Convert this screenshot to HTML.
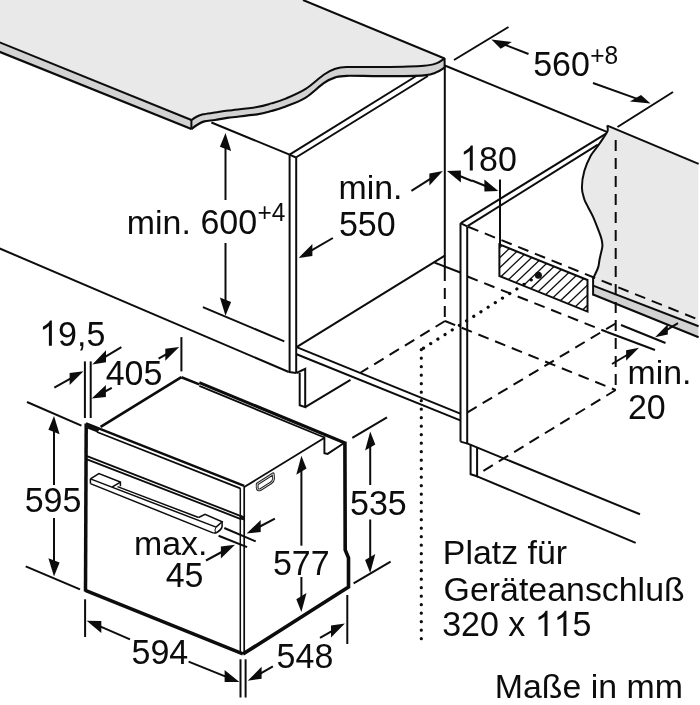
<!DOCTYPE html>
<html><head><meta charset="utf-8"><title>Einbau</title>
<style>html,body{margin:0;padding:0;background:#fff}svg{display:block}text{font-family:"Liberation Sans",sans-serif}</style>
</head><body>
<svg width="700" height="705" viewBox="0 0 700 705" style="will-change:transform">
<g style="filter:opacity(1)">
<rect width="700" height="705" fill="#fff"/>
<path d="M0,0 L0,42.5 L191.4,120 C192.3,119.4 195.1,117.5 197.0,116.5 C198.9,115.5 200.0,115.0 203.0,114.3 C206.0,113.6 210.7,113.2 215.0,112.6 C219.3,112.0 221.6,111.4 228.6,110.5 C235.6,109.6 249.9,108.2 257.0,107.0 C264.1,105.8 266.6,104.8 271.4,103.4 C276.2,102.0 280.0,101.0 285.7,98.6 C291.4,96.2 299.4,92.9 305.7,88.9 C312.0,84.9 318.8,78.1 323.7,74.7 C328.6,71.3 331.4,70.1 335.3,68.8 C339.2,67.5 339.0,67.3 346.9,67.0 C354.8,66.7 370.0,67.2 382.9,67.0 C395.8,66.8 415.0,66.4 424.0,65.7 C433.0,65.0 433.5,64.3 436.9,63.1 C440.3,61.9 443.3,59.3 444.6,58.5 L303,0 Z" fill="#e9e9e9" stroke="none"/>
<path d="M0,42.5 L191.4,120 L191.4,129 L0,52 Z" fill="#d2d2d2" stroke="none"/>
<path d="M191.4,120 C192.3,119.4 195.1,117.5 197.0,116.5 C198.9,115.5 200.0,115.0 203.0,114.3 C206.0,113.6 210.7,113.2 215.0,112.6 C219.3,112.0 221.6,111.4 228.6,110.5 C235.6,109.6 249.9,108.2 257.0,107.0 C264.1,105.8 266.6,104.8 271.4,103.4 C276.2,102.0 280.0,101.0 285.7,98.6 C291.4,96.2 299.4,92.9 305.7,88.9 C312.0,84.9 318.8,78.1 323.7,74.7 C328.6,71.3 331.4,70.1 335.3,68.8 C339.2,67.5 339.0,67.3 346.9,67.0 C354.8,66.7 370.0,67.2 382.9,67.0 C395.8,66.8 415.0,66.4 424.0,65.7 C433.0,65.0 433.5,64.3 436.9,63.1 C440.3,61.9 443.3,59.3 444.6,58.5 L444.6,67.5 C443.3,68.2 440.3,70.7 436.9,72.0 C433.5,73.3 433.0,74.6 424.0,75.3 C415.0,76.0 395.8,76.1 382.9,76.2 C370.0,76.3 354.8,75.6 346.9,75.8 C339.0,76.0 339.2,76.2 335.3,77.4 C331.4,78.6 328.6,79.8 323.7,83.2 C318.8,86.6 312.0,93.7 305.7,97.6 C299.4,101.5 291.4,104.3 285.7,106.5 C280.0,108.7 276.2,109.7 271.4,111.0 C266.6,112.3 264.2,113.2 257.1,114.3 C250.0,115.4 235.6,116.8 228.6,117.7 C221.6,118.7 219.1,119.4 215.0,120.0 C210.9,120.6 207.3,120.6 204.3,121.4 C201.3,122.2 199.2,123.7 197.0,125.0 C194.8,126.3 192.3,128.3 191.4,129.0 Z" fill="#d2d2d2" stroke="none"/>
<line x1="303.0" y1="0.0" x2="444.6" y2="58.5" stroke="#0c0c0c" stroke-width="2.0" stroke-linecap="butt"/>
<line x1="-1.0" y1="42.1" x2="191.4" y2="120.0" stroke="#0c0c0c" stroke-width="2" stroke-linecap="butt"/>
<line x1="-1.0" y1="51.6" x2="191.4" y2="129.0" stroke="#0c0c0c" stroke-width="2.4" stroke-linecap="butt"/>
<line x1="191.4" y1="119.5" x2="191.4" y2="129.5" stroke="#0c0c0c" stroke-width="2.0" stroke-linecap="butt"/>
<path d="M191.4,120.0 C192.3,119.4 195.1,117.5 197.0,116.5 C198.9,115.5 200.0,115.0 203.0,114.3 C206.0,113.6 210.7,113.2 215.0,112.6 C219.3,112.0 221.6,111.4 228.6,110.5 C235.6,109.6 249.9,108.2 257.0,107.0 C264.1,105.8 266.6,104.8 271.4,103.4 C276.2,102.0 280.0,101.0 285.7,98.6 C291.4,96.2 299.4,92.9 305.7,88.9 C312.0,84.9 318.8,78.1 323.7,74.7 C328.6,71.3 331.4,70.1 335.3,68.8 C339.2,67.5 339.0,67.3 346.9,67.0 C354.8,66.7 370.0,67.2 382.9,67.0 C395.8,66.8 415.0,66.4 424.0,65.7 C433.0,65.0 433.5,64.3 436.9,63.1 C440.3,61.9 443.3,59.3 444.6,58.5" fill="none" stroke="#0c0c0c" stroke-width="2" stroke-linejoin="round"/>
<path d="M191.4,129.0 C192.3,128.3 194.8,126.3 197.0,125.0 C199.2,123.7 201.3,122.2 204.3,121.4 C207.3,120.6 210.9,120.6 215.0,120.0 C219.1,119.4 221.6,118.7 228.6,117.7 C235.6,116.8 250.0,115.4 257.1,114.3 C264.2,113.2 266.6,112.3 271.4,111.0 C276.2,109.7 280.0,108.7 285.7,106.5 C291.4,104.3 299.4,101.5 305.7,97.6 C312.0,93.7 318.8,86.6 323.7,83.2 C328.6,79.8 331.4,78.6 335.3,77.4 C339.2,76.2 339.0,76.0 346.9,75.8 C354.8,75.6 370.0,76.3 382.9,76.2 C395.8,76.1 415.0,76.0 424.0,75.3 C433.0,74.6 433.5,73.3 436.9,72.0 C440.3,70.7 443.3,68.2 444.6,67.5" fill="none" stroke="#0c0c0c" stroke-width="2.2" stroke-linejoin="round"/>
<line x1="444.6" y1="58.0" x2="444.6" y2="68.0" stroke="#0c0c0c" stroke-width="2.0" stroke-linecap="butt"/>
<line x1="211.4" y1="122.5" x2="289.6" y2="154.6" stroke="#0c0c0c" stroke-width="2.0" stroke-linecap="butt"/>
<line x1="289.6" y1="154.6" x2="289.6" y2="371.6" stroke="#0c0c0c" stroke-width="2.0" stroke-linecap="butt"/>
<line x1="289.6" y1="154.6" x2="295.9" y2="157.5" stroke="#0c0c0c" stroke-width="2.0" stroke-linecap="butt"/>
<line x1="296.2" y1="157.5" x2="296.2" y2="373.0" stroke="#0c0c0c" stroke-width="2.0" stroke-linecap="butt"/>
<line x1="289.6" y1="154.6" x2="416.3" y2="76.0" stroke="#0c0c0c" stroke-width="2.0" stroke-linecap="butt"/>
<line x1="295.9" y1="157.5" x2="427.9" y2="76.0" stroke="#0c0c0c" stroke-width="2.0" stroke-linecap="butt"/>
<line x1="-1.0" y1="248.2" x2="288.8" y2="372.0" stroke="#0c0c0c" stroke-width="2.0" stroke-linecap="butt"/>
<line x1="288.8" y1="372.0" x2="296.5" y2="373.0" stroke="#0c0c0c" stroke-width="2.0" stroke-linecap="butt"/>
<path d="M296.5,373.0 L305.2,368.8 L305.2,407.1 L299.7,405.2 L299.7,373.0" fill="none" stroke="#0c0c0c" stroke-width="2.0" stroke-linejoin="miter"/>
<line x1="305.2" y1="407.1" x2="350.5" y2="379.9" stroke="#0c0c0c" stroke-width="2.0" stroke-linecap="butt"/>
<line x1="296.6" y1="347.1" x2="445.2" y2="255.4" stroke="#0c0c0c" stroke-width="2.0" stroke-linecap="butt"/>
<line x1="296.6" y1="347.1" x2="460.3" y2="413.6" stroke="#0c0c0c" stroke-width="2.0" stroke-linecap="butt"/>
<line x1="296.6" y1="354.3" x2="460.3" y2="420.4" stroke="#0c0c0c" stroke-width="2.0" stroke-linecap="butt"/>
<line x1="434.6" y1="262.6" x2="460.3" y2="272.5" stroke="#0c0c0c" stroke-width="2.0" stroke-linecap="butt"/>
<line x1="444.8" y1="67.0" x2="444.8" y2="270.0" stroke="#0c0c0c" stroke-width="2.0" stroke-linecap="butt"/>
<line x1="444.8" y1="270.0" x2="444.8" y2="322.0" stroke="#0c0c0c" stroke-width="2.0" stroke-linecap="butt" stroke-dasharray="11 7"/>
<line x1="444.8" y1="65.5" x2="606.9" y2="131.9" stroke="#0c0c0c" stroke-width="2.0" stroke-linecap="butt"/>
<line x1="460.5" y1="223.1" x2="460.5" y2="441.6" stroke="#0c0c0c" stroke-width="2.0" stroke-linecap="butt"/>
<line x1="467.2" y1="226.5" x2="467.2" y2="443.6" stroke="#0c0c0c" stroke-width="2.0" stroke-linecap="butt"/>
<line x1="460.8" y1="223.1" x2="606.9" y2="133.1" stroke="#0c0c0c" stroke-width="2.0" stroke-linecap="butt"/>
<line x1="460.5" y1="223.1" x2="467.2" y2="226.3" stroke="#0c0c0c" stroke-width="2.0" stroke-linecap="butt"/>
<line x1="467.5" y1="226.2" x2="597.9" y2="144.7" stroke="#0c0c0c" stroke-width="2.0" stroke-linecap="butt"/>
<line x1="460.5" y1="441.6" x2="467.5" y2="443.6" stroke="#0c0c0c" stroke-width="2.0" stroke-linecap="butt"/>
<path d="M470.6,444.5 L470.6,474.3 L477.1,476.3 L477.1,447.5" fill="none" stroke="#0c0c0c" stroke-width="2.0" stroke-linejoin="miter"/>
<line x1="467.1" y1="443.4" x2="640.0" y2="514.3" stroke="#0c0c0c" stroke-width="2.0" stroke-linecap="butt"/>
<line x1="477.1" y1="476.3" x2="635.7" y2="542.9" stroke="#0c0c0c" stroke-width="2.0" stroke-linecap="butt"/>
<path d="M607.3,125.6 C607.3,126.5 608.2,128.9 607.6,131.0 C607.0,133.1 605.1,135.3 603.4,137.9 C601.7,140.5 599.6,143.5 597.5,146.5 C595.4,149.5 592.9,151.7 590.7,155.8 C588.5,159.9 585.8,165.8 584.3,171.1 C582.8,176.4 581.9,183.0 581.9,187.7 C581.9,192.4 583.3,196.0 584.3,199.2 C585.3,202.4 586.5,204.0 588.0,207.0 C589.5,210.0 591.5,213.3 593.2,217.1 C594.9,220.9 596.9,226.2 598.3,229.9 C599.7,233.6 600.8,236.3 601.5,239.0 C602.2,241.7 602.5,243.7 602.4,246.0 C602.3,248.3 601.5,250.8 601.0,253.0 C600.5,255.2 600.1,256.9 599.6,259.2 C599.1,261.5 599.0,264.5 598.3,266.9 C597.6,269.3 596.4,271.6 595.5,273.5 C594.6,275.4 593.5,277.7 593.1,278.5 L593.1,285.6 L698.3,326.2 L698.3,163.7 Z" fill="#e9e9e9" stroke="none"/>
<path d="M593.1,285.6 L698.3,326.2 L698.3,337.2 L593.1,294.6 Z" fill="#d2d2d2" stroke="none"/>
<path d="M607.3,125.6 C607.3,126.5 608.2,128.9 607.6,131.0 C607.0,133.1 605.1,135.3 603.4,137.9 C601.7,140.5 599.6,143.5 597.5,146.5 C595.4,149.5 592.9,151.7 590.7,155.8 C588.5,159.9 585.8,165.8 584.3,171.1 C582.8,176.4 581.9,183.0 581.9,187.7 C581.9,192.4 583.3,196.0 584.3,199.2 C585.3,202.4 586.5,204.0 588.0,207.0 C589.5,210.0 591.5,213.3 593.2,217.1 C594.9,220.9 596.9,226.2 598.3,229.9 C599.7,233.6 600.8,236.3 601.5,239.0 C602.2,241.7 602.5,243.7 602.4,246.0 C602.3,248.3 601.5,250.8 601.0,253.0 C600.5,255.2 600.1,256.9 599.6,259.2 C599.1,261.5 599.0,264.5 598.3,266.9 C597.6,269.3 596.4,271.6 595.5,273.5 C594.6,275.4 593.5,277.7 593.1,278.5" fill="none" stroke="#0c0c0c" stroke-width="2" stroke-linejoin="round"/>
<line x1="607.3" y1="125.6" x2="698.6" y2="163.8" stroke="#0c0c0c" stroke-width="2.0" stroke-linecap="butt"/>
<line x1="593.1" y1="285.6" x2="698.6" y2="326.3" stroke="#0c0c0c" stroke-width="2" stroke-linecap="butt"/>
<line x1="593.1" y1="294.6" x2="698.6" y2="337.3" stroke="#0c0c0c" stroke-width="2.2" stroke-linecap="butt"/>
<line x1="593.1" y1="278.0" x2="593.1" y2="295.5" stroke="#0c0c0c" stroke-width="2" stroke-linecap="butt"/>
<line x1="615.7" y1="140.0" x2="615.7" y2="390.0" stroke="#0c0c0c" stroke-width="2.0" stroke-linecap="butt" stroke-dasharray="11 7"/>
<line x1="468.1" y1="226.7" x2="698.0" y2="319.5" stroke="#0c0c0c" stroke-width="2.0" stroke-linecap="butt" stroke-dasharray="11 7"/>
<line x1="467.5" y1="276.5" x2="607.0" y2="332.0" stroke="#0c0c0c" stroke-width="2.0" stroke-linecap="butt" stroke-dasharray="11 7"/>
<line x1="607.0" y1="332.0" x2="655.0" y2="350.0" stroke="#0c0c0c" stroke-width="2.0" stroke-linecap="butt"/>
<line x1="621.0" y1="325.0" x2="665.5" y2="343.0" stroke="#0c0c0c" stroke-width="2.0" stroke-linecap="butt"/>
<line x1="445.0" y1="321.0" x2="615.7" y2="390.0" stroke="#0c0c0c" stroke-width="2.0" stroke-linecap="butt" stroke-dasharray="11 7"/>
<line x1="615.7" y1="390.0" x2="480.0" y2="472.9" stroke="#0c0c0c" stroke-width="2.0" stroke-linecap="butt" stroke-dasharray="11 7"/>
<line x1="615.6" y1="323.5" x2="467.5" y2="412.3" stroke="#0c0c0c" stroke-width="2.0" stroke-linecap="butt" stroke-dasharray="11 7"/>
<line x1="445.0" y1="321.0" x2="360.0" y2="373.0" stroke="#0c0c0c" stroke-width="2.0" stroke-linecap="butt" stroke-dasharray="11 7"/>
<line x1="538.4" y1="275.3" x2="421.3" y2="349.6" stroke="#0c0c0c" stroke-width="3.2" stroke-linecap="round" stroke-dasharray="0.1 8.4"/>
<line x1="421.3" y1="349.6" x2="421.3" y2="642.0" stroke="#0c0c0c" stroke-width="3.2" stroke-linecap="round" stroke-dasharray="0.1 8.4"/>
<defs><clipPath id="hb"><path d="M499.4,244.4 L587.5,280 L587.5,311.6 L499.4,276 Z"/></clipPath></defs>
<g clip-path="url(#hb)">
<line x1="391.8" y1="330.0" x2="491.8" y2="235.0" stroke="#0c0c0c" stroke-width="1.3" stroke-linecap="butt"/>
<line x1="402.4" y1="330.0" x2="502.4" y2="235.0" stroke="#0c0c0c" stroke-width="1.3" stroke-linecap="butt"/>
<line x1="413.0" y1="330.0" x2="513.0" y2="235.0" stroke="#0c0c0c" stroke-width="1.3" stroke-linecap="butt"/>
<line x1="423.6" y1="330.0" x2="523.6" y2="235.0" stroke="#0c0c0c" stroke-width="1.3" stroke-linecap="butt"/>
<line x1="434.2" y1="330.0" x2="534.2" y2="235.0" stroke="#0c0c0c" stroke-width="1.3" stroke-linecap="butt"/>
<line x1="444.8" y1="330.0" x2="544.8" y2="235.0" stroke="#0c0c0c" stroke-width="1.3" stroke-linecap="butt"/>
<line x1="455.4" y1="330.0" x2="555.4" y2="235.0" stroke="#0c0c0c" stroke-width="1.3" stroke-linecap="butt"/>
<line x1="466.0" y1="330.0" x2="566.0" y2="235.0" stroke="#0c0c0c" stroke-width="1.3" stroke-linecap="butt"/>
<line x1="476.6" y1="330.0" x2="576.6" y2="235.0" stroke="#0c0c0c" stroke-width="1.3" stroke-linecap="butt"/>
<line x1="487.2" y1="330.0" x2="587.2" y2="235.0" stroke="#0c0c0c" stroke-width="1.3" stroke-linecap="butt"/>
<line x1="497.8" y1="330.0" x2="597.8" y2="235.0" stroke="#0c0c0c" stroke-width="1.3" stroke-linecap="butt"/>
<line x1="508.4" y1="330.0" x2="608.4" y2="235.0" stroke="#0c0c0c" stroke-width="1.3" stroke-linecap="butt"/>
<line x1="519.0" y1="330.0" x2="619.0" y2="235.0" stroke="#0c0c0c" stroke-width="1.3" stroke-linecap="butt"/>
<line x1="529.6" y1="330.0" x2="629.6" y2="235.0" stroke="#0c0c0c" stroke-width="1.3" stroke-linecap="butt"/>
<line x1="540.2" y1="330.0" x2="640.2" y2="235.0" stroke="#0c0c0c" stroke-width="1.3" stroke-linecap="butt"/>
<line x1="550.8" y1="330.0" x2="650.8" y2="235.0" stroke="#0c0c0c" stroke-width="1.3" stroke-linecap="butt"/>
<line x1="561.4" y1="330.0" x2="661.4" y2="235.0" stroke="#0c0c0c" stroke-width="1.3" stroke-linecap="butt"/>
<line x1="572.0" y1="330.0" x2="672.0" y2="235.0" stroke="#0c0c0c" stroke-width="1.3" stroke-linecap="butt"/>
<line x1="582.6" y1="330.0" x2="682.6" y2="235.0" stroke="#0c0c0c" stroke-width="1.3" stroke-linecap="butt"/>
</g>
<path d="M499.4,244.4 L587.5,280.0 L587.5,311.6 L499.4,276.0 Z" fill="none" stroke="#0c0c0c" stroke-width="2.0" stroke-linejoin="miter"/>
<circle cx="538.4" cy="275.3" r="3.5" fill="#111"/>
<line x1="500.0" y1="179.4" x2="500.0" y2="244.4" stroke="#0c0c0c" stroke-width="2.0" stroke-linecap="butt"/>
<line x1="454.0" y1="60.0" x2="508.5" y2="27.0" stroke="#0c0c0c" stroke-width="2.0" stroke-linecap="butt"/>
<line x1="617.5" y1="127.0" x2="673.0" y2="92.0" stroke="#0c0c0c" stroke-width="2.0" stroke-linecap="butt"/>
<line x1="528.5" y1="54.0" x2="504.4" y2="44.6" stroke="#0c0c0c" stroke-width="2.0" stroke-linecap="butt"/>
<polygon points="491.4,39.5 511.9,42.0 500.7,48.7" fill="#0c0c0c"/>
<line x1="593.0" y1="83.0" x2="637.3" y2="98.9" stroke="#0c0c0c" stroke-width="2.0" stroke-linecap="butt"/>
<polygon points="650.5,103.6 641.0,94.9 629.9,101.5" fill="#0c0c0c"/>
<text transform="translate(533.2,76.0) scale(1,1.03)" font-size="34.0" text-anchor="start" fill="#0c0c0c">560</text>
<text transform="translate(590.3,63.6) scale(1,1.03)" font-size="24.5" text-anchor="start" fill="#0c0c0c">+8</text>
<line x1="225.5" y1="200.0" x2="225.5" y2="146.9" stroke="#0c0c0c" stroke-width="2.0" stroke-linecap="butt"/>
<polygon points="225.5,132.9 231.1,151.1 219.9,146.7" fill="#0c0c0c"/>
<line x1="225.5" y1="243.0" x2="225.5" y2="301.7" stroke="#0c0c0c" stroke-width="2.0" stroke-linecap="butt"/>
<polygon points="225.5,315.7 231.1,301.9 219.9,297.5" fill="#0c0c0c"/>
<line x1="202.9" y1="307.1" x2="284.3" y2="341.4" stroke="#0c0c0c" stroke-width="2.0" stroke-linecap="butt"/>
<text transform="translate(126.8,233.6) scale(1,1.0)" font-size="33.9" text-anchor="start" fill="#0c0c0c">min.</text>
<text transform="translate(200.4,233.6) scale(1,1.03)" font-size="34.0" text-anchor="start" fill="#0c0c0c">600</text>
<text transform="translate(257.5,220.8) scale(1,1.03)" font-size="24.5" text-anchor="start" fill="#0c0c0c">+4</text>
<text transform="translate(338.5,198.7) scale(1,0.98)" font-size="33.9" text-anchor="start" fill="#0c0c0c">min.</text>
<text transform="translate(338.9,236.4) scale(1,1.03)" font-size="34.0" text-anchor="start" fill="#0c0c0c">550</text>
<line x1="411.4" y1="190.9" x2="431.1" y2="178.4" stroke="#0c0c0c" stroke-width="2.0" stroke-linecap="butt"/>
<polygon points="442.9,170.9 429.4,185.5 429.4,173.5" fill="#0c0c0c"/>
<line x1="332.9" y1="238.0" x2="310.7" y2="250.9" stroke="#0c0c0c" stroke-width="2.0" stroke-linecap="butt"/>
<polygon points="298.6,257.9 312.4,255.9 312.4,243.9" fill="#0c0c0c"/>
<line x1="472.0" y1="181.0" x2="459.1" y2="175.8" stroke="#0c0c0c" stroke-width="2.0" stroke-linecap="butt"/>
<polygon points="447.0,170.9 460.9,182.5 460.9,170.5" fill="#0c0c0c"/>
<line x1="472.0" y1="180.5" x2="486.2" y2="186.2" stroke="#0c0c0c" stroke-width="2.0" stroke-linecap="butt"/>
<polygon points="498.3,191.0 484.4,191.4 484.4,179.4" fill="#0c0c0c"/>
<g transform="translate(460.1,170.6) scale(1,1.03)" fill="#0c0c0c">
<path transform="translate(0.00,0) scale(34.0)" d="M0.373,0 L0.285,0 L0.285,-0.560 Q0.253,-0.530 0.202,-0.500 Q0.150,-0.469 0.109,-0.454 L0.109,-0.539 Q0.183,-0.574 0.239,-0.624 Q0.294,-0.673 0.317,-0.720 L0.373,-0.720 Z"/>
<text x="18.90" y="0" font-size="34.0" xml:space="preserve">80</text>
</g>
<line x1="678.0" y1="323.2" x2="666.1" y2="330.4" stroke="#0c0c0c" stroke-width="2.0" stroke-linecap="butt"/>
<polygon points="655.0,337.2 667.8,334.6 667.8,324.2" fill="#0c0c0c"/>
<line x1="612.0" y1="364.0" x2="627.9" y2="354.5" stroke="#0c0c0c" stroke-width="2.0" stroke-linecap="butt"/>
<polygon points="639.0,347.8 626.1,360.7 626.1,350.3" fill="#0c0c0c"/>
<text transform="translate(627.5,384.0) scale(1,0.98)" font-size="33.9" text-anchor="start" fill="#0c0c0c">min.</text>
<text transform="translate(627.9,419.0) scale(1,1.03)" font-size="34.0" text-anchor="start" fill="#0c0c0c">20</text>
<line x1="370.2" y1="485.0" x2="370.2" y2="445.5" stroke="#0c0c0c" stroke-width="2.0" stroke-linecap="butt"/>
<polygon points="370.2,431.5 375.3,444.4 365.1,450.6" fill="#0c0c0c"/>
<line x1="370.2" y1="519.5" x2="370.2" y2="559.0" stroke="#0c0c0c" stroke-width="2.0" stroke-linecap="butt"/>
<polygon points="370.2,573.0 375.3,553.9 365.1,560.1" fill="#0c0c0c"/>
<line x1="352.3" y1="437.9" x2="387.0" y2="417.3" stroke="#0c0c0c" stroke-width="2.0" stroke-linecap="butt"/>
<line x1="353.6" y1="583.3" x2="390.6" y2="561.6" stroke="#0c0c0c" stroke-width="2.0" stroke-linecap="butt"/>
<text transform="translate(350.0,514.5) scale(1,1.03)" font-size="34.0" text-anchor="start" fill="#0c0c0c">535</text>
<line x1="301.4" y1="545.7" x2="301.4" y2="469.7" stroke="#0c0c0c" stroke-width="2.0" stroke-linecap="butt"/>
<polygon points="301.4,455.7 306.5,468.6 296.3,474.8" fill="#0c0c0c"/>
<line x1="301.4" y1="577.0" x2="301.4" y2="598.1" stroke="#0c0c0c" stroke-width="2.0" stroke-linecap="butt"/>
<polygon points="301.4,612.1 306.5,593.0 296.3,599.2" fill="#0c0c0c"/>
<text transform="translate(272.9,575.0) scale(1,1.03)" font-size="34.0" text-anchor="start" fill="#0c0c0c">577</text>
<line x1="54.0" y1="485.0" x2="54.0" y2="430.0" stroke="#0c0c0c" stroke-width="2.0" stroke-linecap="butt"/>
<polygon points="54.0,416.0 59.6,434.2 48.4,429.8" fill="#0c0c0c"/>
<line x1="54.0" y1="518.0" x2="54.0" y2="562.4" stroke="#0c0c0c" stroke-width="2.0" stroke-linecap="butt"/>
<polygon points="54.0,576.4 59.6,562.6 48.4,558.2" fill="#0c0c0c"/>
<line x1="27.0" y1="402.0" x2="81.4" y2="425.7" stroke="#0c0c0c" stroke-width="2.0" stroke-linecap="butt"/>
<line x1="25.7" y1="566.4" x2="80.0" y2="589.3" stroke="#0c0c0c" stroke-width="2.0" stroke-linecap="butt"/>
<text transform="translate(24.7,512.3) scale(1,1.03)" font-size="34.0" text-anchor="start" fill="#0c0c0c">595</text>
<line x1="85.1" y1="599.3" x2="85.1" y2="637.0" stroke="#0c0c0c" stroke-width="2.0" stroke-linecap="butt"/>
<line x1="130.0" y1="639.3" x2="99.5" y2="626.2" stroke="#0c0c0c" stroke-width="2.0" stroke-linecap="butt"/>
<polygon points="86.6,620.7 101.3,633.0 101.3,621.0" fill="#0c0c0c"/>
<line x1="188.6" y1="661.6" x2="226.4" y2="676.9" stroke="#0c0c0c" stroke-width="2.0" stroke-linecap="butt"/>
<polygon points="239.4,682.1 224.6,682.1 224.6,670.1" fill="#0c0c0c"/>
<text transform="translate(131.5,664.0) scale(1,1.03)" font-size="34.0" text-anchor="start" fill="#0c0c0c">594</text>
<line x1="240.5" y1="659.3" x2="240.5" y2="697.5" stroke="#0c0c0c" stroke-width="2.0" stroke-linecap="butt"/>
<line x1="245.6" y1="659.3" x2="245.6" y2="697.5" stroke="#0c0c0c" stroke-width="2.0" stroke-linecap="butt"/>
<line x1="272.9" y1="666.4" x2="259.9" y2="673.8" stroke="#0c0c0c" stroke-width="2.0" stroke-linecap="butt"/>
<polygon points="247.7,680.7 261.6,678.8 261.6,666.8" fill="#0c0c0c"/>
<line x1="347.3" y1="595.0" x2="347.3" y2="644.0" stroke="#0c0c0c" stroke-width="2.0" stroke-linecap="butt"/>
<line x1="320.0" y1="637.9" x2="332.8" y2="630.6" stroke="#0c0c0c" stroke-width="2.0" stroke-linecap="butt"/>
<polygon points="344.9,623.6 331.0,637.6 331.0,625.6" fill="#0c0c0c"/>
<text transform="translate(276.6,667.5) scale(1,1.03)" font-size="34.0" text-anchor="start" fill="#0c0c0c">548</text>
<line x1="84.9" y1="361.4" x2="84.9" y2="418.0" stroke="#0c0c0c" stroke-width="2.0" stroke-linecap="butt"/>
<line x1="90.7" y1="361.4" x2="90.7" y2="418.0" stroke="#0c0c0c" stroke-width="2.0" stroke-linecap="butt"/>
<line x1="54.3" y1="387.7" x2="71.3" y2="378.1" stroke="#0c0c0c" stroke-width="2.0" stroke-linecap="butt"/>
<polygon points="83.5,371.2 69.6,385.1 69.6,373.1" fill="#0c0c0c"/>
<line x1="111.8" y1="387.9" x2="104.1" y2="392.0" stroke="#0c0c0c" stroke-width="2.0" stroke-linecap="butt"/>
<polygon points="91.7,398.5 105.9,397.0 105.9,385.0" fill="#0c0c0c"/>
<line x1="121.4" y1="347.1" x2="104.3" y2="357.3" stroke="#0c0c0c" stroke-width="2.0" stroke-linecap="butt"/>
<polygon points="92.3,364.5 106.0,362.3 106.0,350.3" fill="#0c0c0c"/>
<line x1="181.4" y1="337.1" x2="181.4" y2="371.4" stroke="#0c0c0c" stroke-width="2.0" stroke-linecap="butt"/>
<line x1="158.6" y1="358.6" x2="167.0" y2="353.8" stroke="#0c0c0c" stroke-width="2.0" stroke-linecap="butt"/>
<polygon points="179.2,346.9 165.3,360.8 165.3,348.8" fill="#0c0c0c"/>
<g transform="translate(39.2,345.7) scale(1,1.03)" fill="#0c0c0c">
<path transform="translate(0.00,0) scale(34.0)" d="M0.373,0 L0.285,0 L0.285,-0.560 Q0.253,-0.530 0.202,-0.500 Q0.150,-0.469 0.109,-0.454 L0.109,-0.539 Q0.183,-0.574 0.239,-0.624 Q0.294,-0.673 0.317,-0.720 L0.373,-0.720 Z"/>
<text x="18.90" y="0" font-size="34.0" xml:space="preserve">9,5</text>
</g>
<text transform="translate(105.7,385.0) scale(1,1.03)" font-size="34.0" text-anchor="start" fill="#0c0c0c">405</text>
<text transform="translate(133.9,555.2) scale(1,0.98)" font-size="33.9" text-anchor="start" fill="#0c0c0c">max.</text>
<text transform="translate(165.7,586.6) scale(1,1.03)" font-size="34.0" text-anchor="start" fill="#0c0c0c">45</text>
<line x1="274.9" y1="518.6" x2="259.0" y2="527.0" stroke="#0c0c0c" stroke-width="2.0" stroke-linecap="butt"/>
<polygon points="246.6,533.6 260.7,532.1 260.7,520.1" fill="#0c0c0c"/>
<line x1="206.0" y1="560.5" x2="222.7" y2="551.5" stroke="#0c0c0c" stroke-width="2.0" stroke-linecap="butt"/>
<polygon points="235.0,544.8 220.9,558.4 220.9,546.4" fill="#0c0c0c"/>
<line x1="224.3" y1="528.0" x2="255.7" y2="541.4" stroke="#0c0c0c" stroke-width="2.0" stroke-linecap="butt"/>
<line x1="218.6" y1="535.7" x2="247.1" y2="547.1" stroke="#0c0c0c" stroke-width="2.0" stroke-linecap="butt"/>
<line x1="86.2" y1="423.5" x2="85.5" y2="591.5" stroke="#0c0c0c" stroke-width="3.5" stroke-linecap="butt"/>
<line x1="85.3" y1="590.3" x2="242.9" y2="653.8" stroke="#0c0c0c" stroke-width="3.5" stroke-linecap="butt"/>
<line x1="240.3" y1="488.2" x2="240.3" y2="652.8" stroke="#0c0c0c" stroke-width="1.5" stroke-linecap="butt"/>
<line x1="244.2" y1="486.7" x2="244.2" y2="654.0" stroke="#0c0c0c" stroke-width="1.7" stroke-linecap="butt"/>
<line x1="86.0" y1="423.4" x2="244.2" y2="485.8" stroke="#0c0c0c" stroke-width="2.5" stroke-linecap="butt"/>
<line x1="97.0" y1="432.0" x2="240.3" y2="488.3" stroke="#0c0c0c" stroke-width="1.8" stroke-linecap="butt"/>
<polygon points="86,423.4 100,428.6 97.5,432.6 86,428" fill="#111"/>
<line x1="100.6" y1="426.9" x2="181.4" y2="377.1" stroke="#0c0c0c" stroke-width="2.7" stroke-linecap="butt"/>
<line x1="181.4" y1="377.2" x2="199.3" y2="384.4" stroke="#0c0c0c" stroke-width="2.6" stroke-linecap="butt"/>
<line x1="199.3" y1="382.6" x2="344.5" y2="442.7" stroke="#0c0c0c" stroke-width="3.1" stroke-linecap="butt"/>
<line x1="199.3" y1="385.8" x2="324.4" y2="437.5" stroke="#0c0c0c" stroke-width="1.8" stroke-linecap="butt"/>
<path d="M324.4,436.6 L324.4,453.2 L327.6,453.9 L343.7,443.2" fill="none" stroke="#0c0c0c" stroke-width="1.9" stroke-linejoin="miter"/>
<line x1="244.2" y1="487.0" x2="324.6" y2="437.7" stroke="#0c0c0c" stroke-width="1.9" stroke-linecap="butt"/>
<path d="M344.9,441.5 L345.2,550.0 L348.5,557.8 L348.5,587.0 L243.0,654.0" fill="none" stroke="#0c0c0c" stroke-width="3.6" stroke-linejoin="miter"/>
<line x1="87.0" y1="456.1" x2="240.3" y2="515.8" stroke="#0c0c0c" stroke-width="1.8" stroke-linecap="butt"/>
<line x1="87.0" y1="459.3" x2="240.3" y2="518.8" stroke="#0c0c0c" stroke-width="1.8" stroke-linecap="butt"/>
<path d="M240.3,515.3 L244.2,516.8 L244.2,520.0 L240.3,518.8 Z" fill="#111" stroke="#0c0c0c" stroke-width="1" stroke-linejoin="miter"/>
<path d="M90.4,478.9 L98.9,473.6 L120.4,482.1 L120.4,486.3" fill="none" stroke="#0c0c0c" stroke-width="1.5" stroke-linejoin="miter"/>
<line x1="112.0" y1="487.2" x2="120.4" y2="482.1" stroke="#0c0c0c" stroke-width="1.5" stroke-linecap="butt"/>
<line x1="90.4" y1="478.9" x2="216.1" y2="527.1" stroke="#0c0c0c" stroke-width="1.5" stroke-linecap="butt"/>
<line x1="90.4" y1="478.9" x2="90.4" y2="483.6" stroke="#0c0c0c" stroke-width="1.5" stroke-linecap="butt"/>
<line x1="90.4" y1="483.6" x2="213.6" y2="533.1" stroke="#0c0c0c" stroke-width="1.5" stroke-linecap="butt"/>
<line x1="117.5" y1="486.6" x2="198.6" y2="517.5" stroke="#0c0c0c" stroke-width="1.5" stroke-linecap="butt"/>
<path d="M198.6,517.5 L205.0,514.3 L222.1,521.8 L216.1,527.1" fill="none" stroke="#0c0c0c" stroke-width="1.5" stroke-linejoin="miter"/>
<path d="M222.1,521.8 L222.1,526.5 Q221.5,530 215.7,533.1 L213.6,533.1" fill="none" stroke="#0c0c0c" stroke-width="1.5" stroke-linejoin="round"/>
<path d="M216.1,527.1 Q214,530 215.7,533.1" fill="none" stroke="#0c0c0c" stroke-width="1" stroke-linejoin="round"/>
<path d="M257.2,484 L273.2,473.8 L273.6,478.6 Q273.4,481.4 270.8,483 L260.6,489.5 Q257.4,491 257.2,487.6 Z" fill="none" stroke="#222" stroke-width="2.8" stroke-linejoin="round"/>
<path d="M257.2,484 L273.2,473.8 L273.6,478.6 Q273.4,481.4 270.8,483 L260.6,489.5 Q257.4,491 257.2,487.6 Z" fill="none" stroke="#fff" stroke-width="0.8" stroke-linejoin="round"/>
<text transform="translate(442.8,564.0) scale(1,0.98)" font-size="33.9" text-anchor="start" fill="#0c0c0c">Platz für</text>
<text transform="translate(443.6,601.2) scale(1,0.98)" font-size="33.9" text-anchor="start" fill="#0c0c0c">Geräteanschluß</text>
<g transform="translate(442.2,636.0) scale(1,1.03)" fill="#0c0c0c">
<text x="0.00" y="0" font-size="34.0" xml:space="preserve">320 x </text>
<path transform="translate(92.62,0) scale(34.0)" d="M0.373,0 L0.285,0 L0.285,-0.560 Q0.253,-0.530 0.202,-0.500 Q0.150,-0.469 0.109,-0.454 L0.109,-0.539 Q0.183,-0.574 0.239,-0.624 Q0.294,-0.673 0.317,-0.720 L0.373,-0.720 Z"/>
<path transform="translate(111.52,0) scale(34.0)" d="M0.373,0 L0.285,0 L0.285,-0.560 Q0.253,-0.530 0.202,-0.500 Q0.150,-0.469 0.109,-0.454 L0.109,-0.539 Q0.183,-0.574 0.239,-0.624 Q0.294,-0.673 0.317,-0.720 L0.373,-0.720 Z"/>
<text x="130.42" y="0" font-size="34.0" xml:space="preserve">5</text>
</g>
<text transform="translate(494.8,698.0) scale(1,0.98)" font-size="33.9" text-anchor="start" fill="#0c0c0c">Maße in mm</text>
</g>
</svg>
</body></html>
